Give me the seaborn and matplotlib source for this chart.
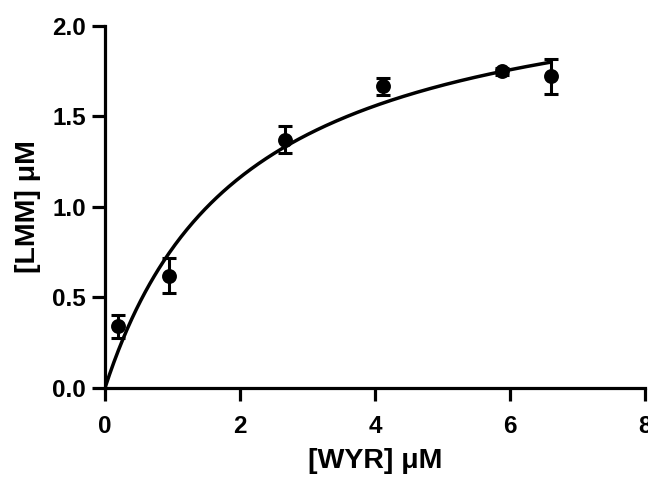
import numpy as np
import pandas as pd
import matplotlib
matplotlib.use("Agg")
import matplotlib.pyplot as plt
import seaborn as sns

# Data
wyr_uM = [0.20, 0.95, 2.67, 4.12, 5.88, 6.61]
lmm_uM = [0.34, 0.62, 1.37, 1.665, 1.748, 1.72]
lmm_err = [0.065, 0.095, 0.075, 0.045, 0.02, 0.095]

# Michaelis-Menten fit parameters
vmax = 2.36
km = 2.06

x_ticks = [0, 2, 4, 6, 8]
y_ticks = [0.0, 0.5, 1.0, 1.5, 2.0]
x_tick_labels = ["0", "2", "4", "6", "8"]
y_tick_labels = ["0.0", "0.5", "1.0", "1.5", "2.0"]

sns.set_style("ticks")
plt.rcParams['font.family'] = ['Liberation Sans', 'DejaVu Sans']
plt.rcParams['font.weight'] = 'bold'
plt.rcParams['axes.labelcolor'] = 'black'
plt.rcParams['text.color'] = 'black'

fig = plt.figure(figsize=(6.48, 4.79), dpi=100)
ax = fig.add_axes([0.162, 0.19, 0.9954 - 0.162, 0.9463 - 0.19])

df = pd.DataFrame({"wyr": wyr_uM, "lmm": lmm_uM, "err": lmm_err})
xs = np.linspace(0, max(wyr_uM), 300)
fit = pd.DataFrame({"wyr": xs, "lmm": vmax * xs / (km + xs)})

sns.lineplot(data=fit, x="wyr", y="lmm", ax=ax, color="black", linewidth=2.5, zorder=2)
ax.errorbar(df["wyr"], df["lmm"], yerr=df["err"], fmt="none", ecolor="black",
            elinewidth=2.2, capsize=4.7, capthick=2.2, zorder=3)
sns.scatterplot(data=df, x="wyr", y="lmm", ax=ax, color="black", s=115,
                edgecolor="black", linewidth=0, zorder=4)

ax.set_xlim(0, 8)
ax.set_ylim(0, 2.0)
ax.set_xticks(x_ticks)
ax.set_xticklabels(x_tick_labels)
ax.set_yticks(y_ticks)
ax.set_yticklabels(y_tick_labels)

for lab in ax.get_xticklabels() + ax.get_yticklabels():
    lab.set_fontsize(17.5)
    lab.set_fontweight("bold")

ax.set_xlabel("[WYR] μM", fontsize=20.5, fontweight="bold", labelpad=7, color="black")
ax.set_ylabel("[LMM] μM", fontsize=20.5, fontweight="bold", labelpad=8, color="black")

sns.despine(ax=ax)
for side in ["left", "bottom"]:
    ax.spines[side].set_linewidth(2.3)
    ax.spines[side].set_color("black")
ax.tick_params(axis="both", length=9.5, width=2.3, color="black", labelcolor="black")
ax.tick_params(axis="x", pad=10)
ax.tick_params(axis="y", pad=4)

fig.savefig("out.png", dpi=100)
